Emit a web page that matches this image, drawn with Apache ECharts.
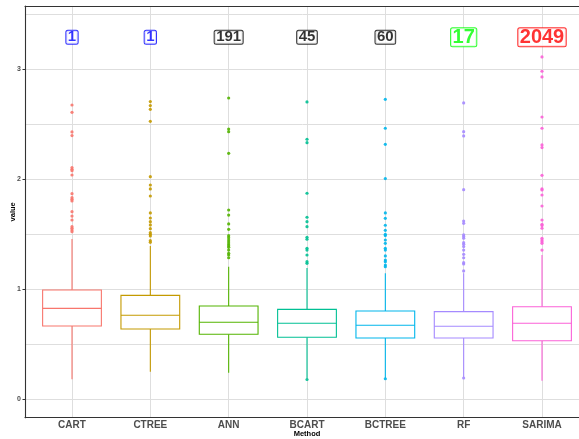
<!DOCTYPE html>
<html><head><meta charset="utf-8">
<script src="https://cdn.jsdelivr.net/npm/echarts@6/dist/echarts.min.js"></script>
<style>html,body{margin:0;padding:0;background:#fff}#c{width:579px;height:439px}</style>
</head><body><div id="c"></div>
<script>
// ---- data ----
const categories = ['CART','CTREE','ANN','BCART','BCTREE','RF','SARIMA'];
const whiskerLow  = [0.182, 0.251, 0.242, 0.190, 0.192, 0.200, 0.169];
const q1          = [0.666, 0.639, 0.591, 0.564, 0.557, 0.557, 0.533];
const median      = [0.827, 0.764, 0.700, 0.691, 0.673, 0.664, 0.691];
const q3          = [0.994, 0.945, 0.848, 0.818, 0.803, 0.797, 0.842];
const whiskerHigh = [1.457, 1.394, 1.205, 1.194, 1.145, 1.145, 1.312];

const outliersCART = [2.675,2.609,2.430,2.397,2.106,2.091,2.078,2.039,1.869,1.833,1.818,1.803,1.706,1.666,1.630,1.569,1.555,1.539,1.524];
const outliersCTREE = [2.706,2.670,2.636,2.527,2.024,1.948,1.912,1.848,1.694,1.648,1.615,1.585,1.551,1.515,1.500,1.485,1.442,1.427];
const outliersANN = [2.739,2.457,2.433,2.236,1.721,1.675,1.594,1.545,1.487,1.469,1.448,1.430,1.412,1.397,1.382,1.357,1.327,1.312,1.287];
const outliersBCART = [2.703,2.364,2.333,1.873,1.655,1.615,1.569,1.473,1.455,1.373,1.357,1.312,1.251,1.236,0.180];
const outliersBCTREE = [2.727,2.464,2.318,2.006,1.694,1.645,1.582,1.536,1.500,1.488,1.448,1.418,1.373,1.357,1.303,1.266,1.251,1.221,1.206,0.187];
const outliersRF = [2.694,2.433,2.394,1.906,1.621,1.600,1.494,1.479,1.464,1.424,1.409,1.388,1.357,1.318,1.287,1.242,1.230,1.167,0.194];
const outliersSARIMA = [3.112,2.982,2.930,2.566,2.464,2.312,2.288,2.036,1.912,1.903,1.857,1.757,1.630,1.591,1.579,1.555,1.464,1.448,1.433,1.418,1.357];
const outlierLists = [outliersCART,outliersCTREE,outliersANN,outliersBCART,outliersBCTREE,outliersRF,outliersSARIMA];

const labelTexts = ['1','1','191','45','60','17','2049'];
const labelY = 3.29;
const yTickLabels = [0,1,2,3];
const yMinorGrid = [0.5,1.5,2.5,3.5];

// ---- styles ----
const palette = ['#F8766D','#C49A00','#53B400','#00C094','#00B6EB','#A58AFF','#FB61D7'];
const labelColors = ['#0000FF','#0000FF','#000000','#000000','#000000','#00FF00','#FF0000'];
const labelSizes = [15,15,15,15,15,20,20];
const xPos = categories.map((c,i)=>i+1);
const gridColor = '#DEDEDE';
const axisColor = '#333333';
const textGrey = '#4D4D4D';
const FONT = '"Liberation Sans", Arial, sans-serif';

const boxData = categories.map((c,i)=>[xPos[i], whiskerLow[i], q1[i], median[i], q3[i], whiskerHigh[i]]);

function renderBox(params, api){
  const x = api.value(0);
  const lo = api.coord([x, api.value(1)]);
  const b1 = api.coord([x, api.value(2)]);
  const md = api.coord([x, api.value(3)]);
  const b3 = api.coord([x, api.value(4)]);
  const hi = api.coord([x, api.value(5)]);
  const half = api.size([0.75, 0])[0] / 2;
  const color = palette[params.dataIndex];
  const st = {stroke: color, lineWidth: 1.1, fill: null};
  return {type:'group', children:[
    {type:'line', shape:{x1:lo[0], y1:lo[1], x2:b1[0], y2:b1[1]}, style:st},
    {type:'line', shape:{x1:b3[0], y1:b3[1], x2:hi[0], y2:hi[1]}, style:st},
    {type:'rect', shape:{x:b1[0]-half, y:b3[1], width:2*half, height:b1[1]-b3[1]}, style:{stroke:color, fill:'#fff', lineWidth:1.1}},
    {type:'line', shape:{x1:md[0]-half, y1:md[1], x2:md[0]+half, y2:md[1]}, style:st}
  ]};
}

const series = [{
  type:'custom', renderItem: renderBox, data: boxData, z: 3,
  encode:{x:0, y:[1,2,3,4,5]}, silent:true
}];
outlierLists.forEach((list,i)=>{
  series.push({
    type:'scatter', data: list.map(v=>[xPos[i], v]), symbol:'circle', symbolSize:3.2,
    itemStyle:{color: palette[i], opacity:0.9}, z:4, silent:true
  });
});
series.push({
  type:'scatter', symbolSize:1, itemStyle:{color:'rgba(0,0,0,0)'}, z:5, silent:true,
  data: labelTexts.map((t,i)=>({
    value:[xPos[i], labelY],
    label:{show:true, position:'inside', formatter:t, color:labelColors[i], fontSize:labelSizes[i],
      lineHeight: labelSizes[i]-2, fontWeight:'bold', fontFamily:FONT,
      backgroundColor:'#fff', borderColor:labelColors[i], borderWidth:1, borderRadius:1.5, padding:[0,1.5,0,1.5]}
  }))
});

const yMin = -0.167, yMax = 3.575;
const option = {
  animation:false,
  backgroundColor:'#fff',
  grid:{left:25, right:-10, top:6, bottom:21.3, containLabel:false, outerBoundsMode:'none'},
  xAxis:[{
    type:'value', min:0.4, max:7.6, position:'bottom',
    name:'Method', nameLocation:'middle', nameGap:12.5, nameMoveOverlap:false,
    nameTextStyle:{fontSize:7.5, fontWeight:'bold', color:'#000', fontFamily:FONT},
    axisLine:{show:true, onZero:false, lineStyle:{color:axisColor, width:1.1}},
    axisTick:{show:false, customValues:xPos},
    axisLabel:{customValues:xPos, formatter:v=>categories[Math.round(v)-1], fontSize:10, fontWeight:'bold', color:textGrey, margin:3, fontFamily:FONT},
    splitLine:{show:true, lineStyle:{color:gridColor, width:1}}
  },{
    type:'value', min:0.4, max:7.6, position:'top',
    axisLine:{show:true, onZero:false, lineStyle:{color:axisColor, width:1.1}},
    axisTick:{show:false}, axisLabel:{show:false}, splitLine:{show:false}
  }],
  yAxis:[{
    type:'value', min:yMin, max:yMax, position:'left',
    name:'value', nameLocation:'middle', nameGap:8, nameRotate:90, nameMoveOverlap:false,
    nameTextStyle:{fontSize:7.5, fontWeight:'bold', color:'#000', fontFamily:FONT},
    axisLine:{show:true, onZero:false, lineStyle:{color:axisColor, width:1.1}},
    axisTick:{show:true, length:2.5, customValues:yTickLabels, lineStyle:{color:axisColor}},
    axisLabel:{customValues:yTickLabels, fontSize:7, fontWeight:'bold', color:textGrey, margin:4, fontFamily:FONT},
    splitLine:{show:true, lineStyle:{color:gridColor, width:1}}
  },{
    type:'value', min:yMin, max:yMax, position:'left',
    axisLine:{show:false}, axisLabel:{show:false},
    axisTick:{show:false, customValues:yMinorGrid},
    splitLine:{show:true, lineStyle:{color:gridColor, width:1}}
  }],
  series: series
};
const chart = echarts.init(document.getElementById('c'), null, {renderer:'canvas'});
chart.setOption(option);
</script>
</body></html>
